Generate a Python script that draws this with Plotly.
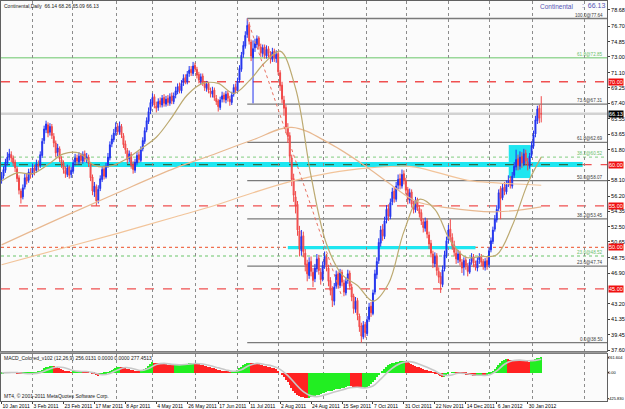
import plotly.graph_objects as go

W, H = 625, 409

# ---------------- data ----------------
OPEN = [58.2,58.6,59.3,60.2,60.9,61.2,60.8,60.3,59.5,58.4,
56.8,56.1,57.3,58.5,58.1,59.0,58.8,59.6,59.3,60.0,
59.9,61.1,62.9,64.2,64.8,63.9,64.6,63.4,62.6,61.5,
61.9,60.6,60.2,59.3,58.8,59.7,58.8,59.2,60.3,60.8,
60.3,61.1,60.4,61.3,60.6,60.9,60.0,58.5,56.7,57.3,
55.7,57.1,58.2,59.5,58.5,59.9,60.8,62.5,63.0,63.9,
64.6,63.9,64.6,63.5,62.5,61.7,60.7,61.2,60.0,59.3,
60.2,61.2,60.5,61.9,62.8,64.2,65.2,66.5,67.4,68.2,
67.1,66.9,67.7,67.2,68.1,67.3,68.0,67.4,68.3,67.6,
68.4,68.8,69.5,68.9,69.9,70.5,70.0,71.0,71.5,71.0,
72.0,71.5,70.9,70.1,70.7,69.8,69.2,69.8,68.9,68.5,
69.0,68.0,67.7,66.9,67.9,68.4,67.8,68.6,67.9,67.5,
68.5,69.4,68.9,70.2,71.5,73.3,74.3,75.7,76.9,74.8,
72.9,74.1,74.5,75.3,74.2,73.4,74.2,73.1,74.0,73.3,
72.7,73.7,72.8,73.4,71.1,69.6,67.8,66.9,64.4,63.5,
60.8,58.3,56.1,55.2,52.0,49.6,51.4,49.3,48.0,46.6,
48.3,47.0,46.2,47.4,48.7,47.0,46.2,47.9,48.8,47.5,
46.0,44.9,43.5,45.3,46.8,45.4,47.0,45.7,44.5,46.0,
46.9,45.2,44.1,42.5,43.6,41.7,40.5,39.2,40.7,39.6,
41.3,42.9,42.0,44.6,46.7,48.4,50.5,52.2,51.3,53.3,
54.7,53.7,55.5,56.8,55.8,57.5,58.3,57.4,58.9,58.0,
57.0,55.7,56.7,55.1,54.5,55.8,54.7,54.2,53.1,52.3,
53.2,51.5,50.5,49.2,48.0,49.0,47.1,46.5,45.5,47.4,
49.0,50.9,52.2,51.2,50.3,49.3,48.5,49.3,48.2,47.6,
48.5,47.7,47.0,48.3,48.9,48.0,47.5,48.5,48.8,48.3,
47.6,48.4,47.9,49.7,50.7,52.2,53.3,54.7,57.1,56.0,
57.3,56.7,57.7,58.1,57.4,58.7,59.7,60.7,59.8,61.0,
60.1,61.4,60.3,59.8,61.1,62.2,63.7,65.3,66.8,66.14]

HIGH = [59.1,59.8,60.7,61.5,61.9,61.6,61.1,60.6,59.8,58.7,
57.1,57.6,58.9,59.0,59.5,59.6,60.1,60.0,60.6,60.5,
61.6,63.2,64.7,65.3,65.1,65.0,64.9,63.8,62.9,62.5,
62.2,61.0,60.5,59.8,60.0,59.9,59.7,60.6,61.3,61.2,
61.5,61.4,61.6,61.7,61.4,61.2,60.3,58.8,57.9,57.6,
57.5,58.7,59.8,59.9,60.2,61.4,62.8,63.6,64.3,65.1,
65.0,65.2,64.9,63.8,62.9,62.0,61.7,61.5,60.4,60.7,
61.5,61.6,62.2,63.3,64.5,65.7,66.9,67.9,68.6,68.5,
67.6,68.0,68.1,68.4,68.5,68.3,68.4,68.6,68.7,68.7,
69.4,69.8,69.9,70.2,70.9,70.9,71.3,71.9,71.9,72.4,
72.3,71.8,71.2,71.0,71.0,70.1,70.1,70.0,69.3,69.4,
69.3,68.4,67.9,68.2,68.8,68.7,68.9,68.9,68.3,68.8,
69.7,69.8,70.5,72.0,73.6,74.9,76.1,77.64,77.2,75.1,
75.0,75.2,75.6,75.5,74.6,74.5,74.5,74.4,74.3,73.7,
74.1,74.0,73.8,73.6,71.4,70.0,68.3,67.2,65.0,63.9,
61.2,58.9,56.8,55.6,52.6,52.1,51.9,49.8,48.5,48.8,
48.9,47.5,48.0,49.2,49.1,47.5,48.3,49.5,49.2,47.9,
46.4,45.3,45.7,47.2,47.1,47.4,47.3,46.1,46.4,47.3,
47.2,45.6,44.4,44.0,43.9,42.0,40.9,41.1,41.0,41.7,
43.3,43.4,44.9,47.3,48.8,51.1,52.6,52.8,53.7,55.1,
55.2,55.9,57.2,57.3,57.9,58.8,58.9,59.4,59.3,58.4,
57.3,57.1,57.0,55.6,56.1,56.0,55.1,54.6,53.5,53.6,
53.5,51.9,50.9,49.6,49.4,49.3,47.6,47.0,47.8,49.6,
51.3,52.7,53.4,51.7,50.8,49.8,49.7,49.6,48.6,48.8,
48.9,48.1,48.6,49.3,49.2,48.4,48.8,49.3,49.2,48.6,
48.7,48.8,50.0,51.2,52.5,53.9,55.1,57.0,57.4,57.7,
57.9,58.1,58.7,58.6,59.1,60.3,61.8,61.2,61.6,61.5,
61.9,61.8,60.8,61.4,62.8,64.1,65.9,67.1,67.2,68.26]

LOW = [57.7,58.3,59.0,59.9,60.5,60.3,59.8,59.1,57.9,56.4,
55.3,55.8,57.0,57.6,57.8,58.3,58.5,58.7,59.0,59.3,
59.6,60.8,62.5,63.8,63.3,63.5,63.1,62.1,60.9,61.0,
60.3,59.6,58.9,58.4,58.5,58.3,58.4,58.9,59.9,60.0,
60.0,60.1,60.1,60.3,60.2,59.7,58.0,56.3,56.1,55.0,
55.3,56.8,57.9,58.2,58.3,59.6,60.5,62.1,62.7,63.5,
63.6,63.6,63.2,62.0,61.3,60.1,60.3,59.5,58.9,59.0,
59.9,60.2,60.3,61.6,62.5,63.9,64.9,66.1,67.0,66.8,
66.3,66.5,66.9,66.9,67.0,67.0,67.1,67.1,67.3,67.3,
68.0,68.5,68.6,68.6,69.5,69.7,69.7,70.6,70.7,70.7,
71.2,70.4,69.8,69.7,69.5,68.9,68.8,68.6,68.1,68.1,
67.7,67.2,66.4,66.6,67.5,67.5,67.4,67.6,67.1,67.2,
68.2,68.6,68.7,69.9,71.2,72.9,74.0,75.3,74.5,72.5,
67.4,73.6,74.1,73.9,73.0,73.0,72.8,72.8,72.9,72.2,
72.4,72.4,72.3,70.8,68.9,67.4,65.9,63.8,62.6,60.2,
57.4,55.5,54.1,51.4,48.9,49.0,48.8,47.1,45.9,46.2,
46.5,45.2,45.8,47.0,46.7,45.5,45.9,47.4,47.1,45.3,
44.2,42.8,43.0,45.0,45.0,45.1,45.3,44.1,44.2,45.6,
44.9,43.5,42.0,42.1,41.2,39.8,38.5,38.9,39.1,39.3,
41.0,41.6,41.8,44.3,46.2,48.0,50.1,50.8,51.0,52.9,
53.2,53.4,55.1,55.4,55.5,57.0,57.0,57.1,57.6,56.4,
55.2,55.3,54.8,54.1,54.2,54.4,53.6,52.7,51.8,51.9,
51.1,49.8,48.8,47.5,47.6,46.6,45.7,44.5,45.2,47.1,
48.7,50.5,50.8,49.7,48.9,48.0,48.1,47.8,46.9,46.6,
47.3,46.5,46.8,47.9,47.6,47.2,47.1,48.0,47.7,47.3,
47.2,47.3,47.6,49.4,50.4,51.9,53.0,54.4,53.4,55.7,
56.3,56.4,57.3,57.1,57.1,58.4,59.3,59.3,59.4,59.6,
59.8,59.9,59.3,59.5,60.8,61.9,63.3,64.9,65.0,65.09]

CLOSE = [58.6,59.4,60.3,60.9,61.3,60.8,60.2,59.6,58.3,56.9,
56.0,57.2,58.4,58.0,59.1,58.8,59.6,59.2,60.1,59.8,
61.2,62.8,64.3,64.9,63.8,64.6,63.5,62.6,61.4,62.0,
60.7,60.1,59.4,58.9,59.6,58.7,59.3,60.2,60.8,60.4,
61.0,60.5,61.2,60.7,60.9,60.1,58.4,56.8,57.4,55.6,
57.0,58.3,59.4,58.6,59.8,60.9,62.4,63.1,63.8,64.5,
64.0,64.7,63.6,62.4,61.8,60.6,61.3,59.9,59.4,60.3,
61.1,60.6,61.8,62.9,64.1,65.3,66.4,67.5,68.1,67.2,
66.8,67.6,67.3,68.0,67.4,67.9,67.5,68.2,67.7,68.3,
68.9,69.4,69.0,69.8,70.4,70.1,70.9,71.4,71.1,71.9,
71.6,70.8,70.2,70.6,69.9,69.3,69.7,69.0,68.6,68.9,
68.1,67.6,67.0,67.8,68.3,67.9,68.5,68.0,67.6,68.4,
69.3,69.0,70.1,71.6,73.2,74.4,75.6,76.8,74.9,73.1,
74.0,74.6,75.2,74.3,73.5,74.1,73.2,73.9,73.4,72.8,
73.6,72.9,73.3,71.2,69.5,67.9,66.8,64.5,63.4,61.0,
58.2,56.3,55.0,52.1,49.8,51.3,49.5,47.9,46.8,48.2,
47.1,46.0,47.5,48.6,47.2,46.1,47.8,48.9,47.6,45.9,
44.8,43.6,45.2,46.7,45.5,46.9,45.8,44.6,45.9,46.8,
45.3,44.0,42.6,43.5,41.8,40.4,39.3,40.6,39.7,41.2,
42.8,42.1,44.5,46.8,48.3,50.6,52.1,51.4,53.2,54.6,
53.8,55.4,56.7,55.9,57.4,58.2,57.5,58.8,58.1,56.9,
55.8,56.6,55.2,54.6,55.7,54.8,54.1,53.2,52.4,53.1,
51.6,50.4,49.3,48.1,48.9,47.2,46.4,45.6,47.3,49.1,
50.8,52.1,51.3,50.2,49.4,48.6,49.2,48.3,47.5,48.4,
47.8,47.1,48.2,48.8,48.1,47.6,48.4,48.9,48.2,47.7,
48.3,47.8,49.6,50.8,52.1,53.4,54.6,56.6,55.9,57.2,
56.8,57.6,58.0,57.5,58.6,59.8,60.6,59.9,60.9,60.2,
61.3,60.4,59.9,61.0,62.3,63.6,65.4,66.7,65.6,66.13]

MACD = [-15,-10,-5,3,8,10,6,2,-8,-20,
-30,-28,-22,-20,-16,-14,-8,-2,6,12,
25,45,70,92,100,110,112,105,95,88,
74,60,45,30,22,14,10,12,16,18,
20,22,20,19,17,12,0,-20,-30,-48,
-52,-45,-35,-25,-12,5,25,45,65,85,
95,100,98,90,80,68,60,48,36,28,
22,20,25,40,60,85,115,145,170,168,
160,155,150,148,142,138,133,130,126,124,
126,130,132,136,142,145,150,156,158,162,
160,152,142,135,125,115,108,98,88,80,
70,58,45,40,35,30,26,18,10,12,
20,28,45,70,100,125,150,165,168,160,
155,150,148,140,132,125,118,110,102,95,
85,70,55,30,0,-35,-75,-120,-165,-210,
-260,-300,-340,-370,-395,-405,-415,-420,-425.83,-418,
-412,-400,-392,-380,-372,-360,-348,-335,-322,-315,
-305,-300,-290,-283,-275,-268,-258,-250,-240,-232,
-222,-228,-236,-244,-252,-260,-266,-262,-255,-240,
-220,-195,-160,-120,-80,-40,0,35,65,95,
120,140,155,165,175,182,188,192,195,190,
175,160,145,128,112,100,88,75,62,52,
40,28,15,2,-10,-30,-48,-65,-80,-70,
-50,-25,0,8,10,5,3,-5,-15,-25,
-32,-40,-45,-48,-50,-52,-48,-42,-40,-43,
-45,-40,-30,-10,20,55,95,135,165,195,
215,225,222,218,214,210,206,200,198,195,
192,190,188,186,200,215,230,245,252,256.0131]

SIGNAL_BARS = [0,4,8,12,16,20,24,28,32,36,40,44,48,52,56,60,64,68,72,76,80,84,88,92,96,100,
               104,108,112,116,120,124,128,132,136,140,144,148,152,156,160,164,168,172,176,180,
               184,188,192,196,200,204,208,212,216,220,224,228,232,236,240,244,248,252,256,260,
               264,268,272,276,279]
SIGNAL = [-5,0,2,-15,-18,0,50,90,85,45,20,18,-5,-35,-15,45,85,65,35,70,135,155,138,130,140,152,
          145,115,80,45,22,50,120,155,135,110,55,-50,-190,-320,-390,-400,-365,-325,-290,-255,
          -245,-258,-225,-110,20,120,175,180,140,90,30,-40,-45,-10,-15,-40,-45,-40,30,140,
          200,210,198,205,225]

MA20_BARS = [0,8,16,24,32,40,48,56,64,72,80,88,96,104,112,120,128,136,144,152,160,168,176,184,
             192,200,208,216,224,232,240,248,256,264,272,279]
MA20 = [58.0,59.0,58.9,60.0,61.3,61.4,59.9,59.8,60.6,61.9,63.3,65.7,68.4,69.8,69.8,68.6,70.1,
        72.3,73.7,69.2,58.6,50.4,46.7,45.4,43.5,45.6,51.9,55.8,54.6,50.8,48.8,48.9,49.1,52.6,
        57.7,60.9]

MA100_BARS = [0,30,60,90,108,130,150,170,190,200,214,230,256,279]
MA100 = [50.3,53.5,56.6,59.6,61.1,63.0,64.5,62.5,59.5,57.8,55.6,54.8,54.3,54.9]

MA200_BARS = [0,30,60,90,108,130,150,170,190,205,214,241,256,279]
MA200 = [47.9,49.8,51.7,53.7,54.9,56.6,58.0,59.0,59.6,59.8,59.7,58.1,57.8,57.5]

DATE_LABEL_BARS = [0,16,32,48,64,80,96,112,128,144,160,176,192,208,224,240,256,272]
DATE_LABELS = ["10 Jan 2011","3 Feb 2011","23 Feb 2011","17 Mar 2011","8 Apr 2011","4 May 2011",
               "26 May 2011","17 Jun 2011","11 Jul 2011","2 Aug 2011","24 Aug 2011","15 Sep 2011",
               "7 Oct 2011","31 Oct 2011","22 Nov 2011","14 Dec 2011","6 Jan 2012","30 Jan 2012"]
MONTH_GRID_BARS = [16.0,36.7,59.5,78.1,100.3,122.0,143.2,166.5,188.7,209.4,231.1,252.3,274.5,301.4]

PRICE_TICKS = [78.68,76.70,74.85,73.00,71.10,69.25,67.40,65.55,63.65,61.80,58.10,56.20,
               54.35,52.50,50.65,48.75,46.90,43.20,41.35,39.45,37.60]
MACD_TICKS = [261.604, 0.0, -425.83]
MACD_TICK_TEXT = ["261.604", "0.00", "-425.830"]

FIB_ANCHOR_BAR = 127
FIB_HIGH, FIB_LOW = 77.64, 38.50
FIB_LEVELS = [0.0, 23.6, 38.2, 50.0, 61.8, 73.6, 100.0]

GREEN_LEVELS = [72.90, 60.90, 48.96]
GREEN_TEXT = ["61.8@72.85", "38.2@60.52", "23.6@48.52"]
RED_LEVELS = [70.00, 60.00, 55.00, 50.00, 45.00]
BID = 66.13
TREND = [(127, 77.64), (176, 44.0)]
CYAN_BOX = (262.2, 273.5, 58.37, 62.36)
CYAN_ZONE_60 = (59.72, 60.30, 300.4)
CYAN_ZONE_50 = (49.78, 50.18, 148, 245)

# ---------------- layout helpers ----------------
def px(x):
    return x / W

def py(y):
    return 1 - y / H

X_RANGE = [-0.3, 313.0]
MAIN_Y = [37.485, 79.755]
MACD_Y = [-476.0, 312.0]
FONT = "Liberation Sans, Arial, sans-serif"

fig = go.Figure()

fig.add_trace(go.Candlestick(
    x=list(range(len(CLOSE))), open=OPEN, high=HIGH, low=LOW, close=CLOSE,
    increasing=dict(line=dict(color="#2233EE", width=1), fillcolor="#2233EE"),
    decreasing=dict(line=dict(color="#F04848", width=1), fillcolor="#F46A6A"),
    whiskerwidth=0, hoverinfo="skip", showlegend=False, xaxis="x", yaxis="y"))

fig.add_trace(go.Scatter(x=MA200_BARS, y=MA200, mode="lines", line=dict(color="#F2C49A", width=1.2, shape="spline"),
                         hoverinfo="skip", showlegend=False))
fig.add_trace(go.Scatter(x=MA100_BARS, y=MA100, mode="lines", line=dict(color="#E8B890", width=1.2, shape="spline"),
                         hoverinfo="skip", showlegend=False))
fig.add_trace(go.Scatter(x=MA20_BARS, y=MA20, mode="lines", line=dict(color="#BCA970", width=1.2, shape="spline"),
                         hoverinfo="skip", showlegend=False))
fig.add_trace(go.Scatter(x=[p[0] for p in TREND], y=[p[1] for p in TREND], mode="lines",
                         line=dict(color="#E87060", width=1, dash="dot"), hoverinfo="skip", showlegend=False))

colors = []
for i, v in enumerate(MACD):
    prev = MACD[i - 1] if i > 0 else v
    colors.append("#22EE22" if v >= prev else "#FF2222")
fig.add_trace(go.Bar(x=list(range(len(MACD))), y=MACD, marker=dict(color=colors, line=dict(width=0)),
                     width=0.75, hoverinfo="skip", showlegend=False, xaxis="x2", yaxis="y2"))
fig.add_trace(go.Scatter(x=SIGNAL_BARS, y=SIGNAL, mode="lines", line=dict(color="#C8C8C8", width=1.6, shape="spline"),
                         hoverinfo="skip", showlegend=False, xaxis="x2", yaxis="y2"))

shapes = []
ann = []
# cyan zones (drawn under the bars)
shapes.append(dict(type="rect", xref="x", yref="y", x0=X_RANGE[0], x1=CYAN_ZONE_60[2], y0=CYAN_ZONE_60[0],
                   y1=CYAN_ZONE_60[1], fillcolor="#1EE6F0", line=dict(width=0), layer="below"))
shapes.append(dict(type="rect", xref="x", yref="y", x0=CYAN_ZONE_50[2], x1=CYAN_ZONE_50[3], y0=CYAN_ZONE_50[0],
                   y1=CYAN_ZONE_50[1], fillcolor="#1EE6F0", line=dict(width=0), layer="below"))
shapes.append(dict(type="rect", xref="x", yref="y", x0=CYAN_BOX[0], x1=CYAN_BOX[1], y0=CYAN_BOX[2], y1=CYAN_BOX[3],
                   fillcolor="#1EE6F0", line=dict(width=0), layer="below"))
# bid line
shapes.append(dict(type="line", xref="x domain", yref="y", x0=0, x1=1, y0=BID, y1=BID,
                   line=dict(color="#D2D2D2", width=2.5), layer="below"))
# green levels
for k, g in enumerate(GREEN_LEVELS):
    shapes.append(dict(type="line", xref="x domain", yref="y", x0=0, x1=1, y0=g, y1=g,
                       line=dict(color="#9AD89A", width=1.3, dash="solid" if k == 0 else "dot"), layer="below"))
    ann.append(dict(xref="x domain", yref="y", x=0.995, y=g, text=GREEN_TEXT[k], showarrow=False,
                    xanchor="right", yanchor="bottom", borderpad=0,
                    font=dict(size=4.6, color="#6CBF6C", family=FONT)))
# red levels
for r in RED_LEVELS:
    if r == 60.00:
        shapes.append(dict(type="line", xref="x", yref="y", x0=X_RANGE[0], x1=CYAN_ZONE_60[2], y0=r, y1=r,
                           line=dict(color="#2E6B46", width=1.3, dash="dash"), layer="below"))
        shapes.append(dict(type="line", xref="x", yref="y", x0=CYAN_ZONE_60[2], x1=X_RANGE[1], y0=r, y1=r,
                           line=dict(color="#F05050", width=1.3, dash="dash"), layer="below"))
    elif r == 50.00:
        shapes.append(dict(type="line", xref="x domain", yref="y", x0=0, x1=1, y0=r, y1=r,
                           line=dict(color="#F07050", width=1.3, dash="dot"), layer="below"))
    else:
        shapes.append(dict(type="line", xref="x domain", yref="y", x0=0, x1=1, y0=r, y1=r,
                           line=dict(color="#F05050", width=1.3, dash="dash"), layer="below"))
    ann.append(dict(xref="paper", yref="y", x=px(608), y=r, text=f"{r:.2f}", showarrow=False,
                    xanchor="left", yanchor="middle", bgcolor="#F01010", borderpad=0,
                    font=dict(size=5.5, color="white", family=FONT)))
ann.append(dict(xref="paper", yref="y", x=px(608), y=BID, text=f"{BID:.2f}", showarrow=False,
                xanchor="left", yanchor="middle", bgcolor="#000000", borderpad=0,
                font=dict(size=5.5, color="white", family=FONT)))
# MACD scale labels (placed against the pane's own value axis)
for v, t in zip(MACD_TICKS, MACD_TICK_TEXT):
    ann.append(dict(xref="paper", yref="y2", x=px(608), y=v, text=t, showarrow=False,
                    xanchor="left", yanchor="middle", borderpad=0, borderwidth=0,
                    font=dict(size=4.0, color="#000000", family=FONT)))
# fibonacci
for lv in FIB_LEVELS:
    p = FIB_LOW + lv / 100.0 * (FIB_HIGH - FIB_LOW)
    shapes.append(dict(type="line", xref="x", yref="y", x0=FIB_ANCHOR_BAR, x1=X_RANGE[1], y0=p, y1=p,
                       line=dict(color="#7A7A7A", width=1.3), layer="below"))
    ann.append(dict(xref="x domain", yref="y", x=0.995, y=p, text=f"{lv:.1f}@{p:.2f}", showarrow=False,
                    xanchor="right", yanchor="bottom", borderpad=0,
                    font=dict(size=4.6, color="#404040", family=FONT)))
# pane separator
shapes.append(dict(type="line", xref="paper", yref="paper", x0=0, x1=px(607), y0=py(352.5), y1=py(352.5),
                   line=dict(color="#9A9A9A", width=2)))

ann.append(dict(xref="paper", yref="paper", x=px(3), y=py(2), text="Continental,Daily  66.14 68.26 65.09 66.13",
                showarrow=False, xanchor="left", yanchor="top", borderpad=0,
                font=dict(size=5, color="#202020", family=FONT)))
ann.append(dict(xref="paper", yref="paper", x=px(574), y=py(2), text="Continental",
                showarrow=False, xanchor="right", yanchor="top", borderpad=0,
                font=dict(size=6.5, color="#5555B5", family=FONT)))
ann.append(dict(xref="paper", yref="paper", x=px(581), y=py(1.5), text=":  66.13",
                showarrow=False, xanchor="left", yanchor="top", borderpad=0,
                font=dict(size=7, color="#5555B5", family=FONT)))
ann.append(dict(xref="paper", yref="paper", x=px(3), y=py(354), text="MACD_Colored_v102 (12,26,9) 256.0131 0.0000 0.0000 277.4513",
                showarrow=False, xanchor="left", yanchor="top", borderpad=0,
                font=dict(size=5, color="#202020", family=FONT)))
ann.append(dict(xref="paper", yref="paper", x=px(3), y=py(400), text="MT4, © 2001-2011 MetaQuotes Software Corp.",
                showarrow=False, xanchor="left", yanchor="bottom", borderpad=0,
                font=dict(size=5, color="#202020", family=FONT)))

grid = dict(tickmode="array", tickvals=MONTH_GRID_BARS, showgrid=True, gridcolor="#8C8C8C", griddash="dot",
            gridwidth=1, ticks="")

fig.update_layout(
    width=W, height=H, margin=dict(l=0, r=0, t=0, b=0, autoexpand=False),
    paper_bgcolor="#FFFFFF", plot_bgcolor="#FBFBFB",
    font=dict(family=FONT, size=5.5, color="#000000"),
    showlegend=False, shapes=shapes, annotations=ann, bargap=0,
    xaxis=dict(domain=[px(1), px(607)], range=X_RANGE, showticklabels=False, showgrid=False, zeroline=False,
               minor=grid, rangeslider=dict(visible=False), anchor="y", automargin=False,
               showline=True, linecolor="#606060", mirror=True, ticks=""),
    yaxis=dict(domain=[py(351), py(1)], range=MAIN_Y, side="right", tickmode="array", tickvals=PRICE_TICKS,
               ticktext=[f"{v:.2f}" for v in PRICE_TICKS], showgrid=False, zeroline=False, automargin=False,
               ticks="outside", ticklen=2, tickcolor="#404040", tickfont=dict(size=5.5),
               showline=True, linecolor="#606060", mirror=True, anchor="x"),
    xaxis2=dict(domain=[px(1), px(607)], range=X_RANGE, anchor="y2", tickmode="array", tickvals=DATE_LABEL_BARS,
                ticktext=DATE_LABELS, ticklabelposition="outside right", tickangle=0, tickfont=dict(size=5),
                ticks="outside", ticklen=2, tickcolor="#404040", showgrid=False, zeroline=False, minor=grid,
                automargin=False, showline=True, linecolor="#606060", mirror=True),
    yaxis2=dict(domain=[py(401), py(354)], range=MACD_Y, side="right", anchor="x2", tickmode="array",
                tickvals=MACD_TICKS, ticktext=["", "", ""], ticks="outside", ticklen=1,
                tickcolor="#404040", showgrid=False, zeroline=False, showline=True, linecolor="#606060",
                mirror=True, automargin=False),
)

fig.write_html("out.html")
